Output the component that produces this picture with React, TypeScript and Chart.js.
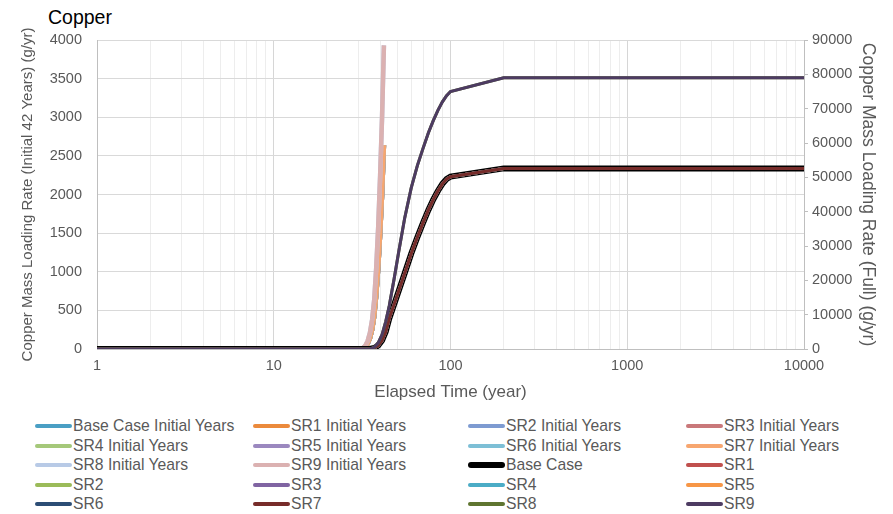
import React, { useEffect, useRef } from "react";
import { Chart, registerables } from "chart.js";

Chart.register(...registerables);

// ---- data ----
const initialYears = [1, 30, 32, 33, 34, 35, 36, 37, 38, 39, 40, 41, 42];
const initialGroupA = [0, 0, 10, 30, 70, 140, 250, 420, 700, 1050, 1500, 2000, 2640];
const initialGroupB = [0, 0, 15, 45, 105, 210, 375, 630, 1050, 1580, 2250, 3000, 3930];

const fullYears = [1, 35, 37, 39, 41, 43, 45, 48, 51, 55, 60, 65, 70, 75, 80, 85, 90, 95, 100, 200, 10000];
const fullGroupA = [0, 0, 300, 1000, 2500, 5000, 8800, 13000, 17000, 22000, 27800, 32600, 36800, 40500, 43600, 46100, 48100, 49500, 50200, 52600, 52600];
const fullGroupB = [0, 0, 500, 1800, 4200, 8000, 12500, 20500, 28500, 38000, 47000, 53500, 58500, 63000, 66600, 69600, 72000, 73800, 75000, 79000, 79000];

const xTickDecades = [1, 10, 100, 1000];
const xTickMultipliers = [1, 2, 3, 4, 5, 6, 7, 8, 9];
const xMin = 1;
const xMax = 10000;

const leftMax = 4000;
const leftStep = 500;
const rightMax = 90000;
const rightStep = 10000;

const seriesLabels = [
  "Base Case Initial Years", "SR1 Initial Years", "SR2 Initial Years", "SR3 Initial Years",
  "SR4 Initial Years", "SR5 Initial Years", "SR6 Initial Years", "SR7 Initial Years",
  "SR8 Initial Years", "SR9 Initial Years", "Base Case", "SR1",
  "SR2", "SR3", "SR4", "SR5",
  "SR6", "SR7", "SR8", "SR9",
];
const seriesColors = [
  "#4A9FC4", "#EB8A3C", "#7E9BD1", "#C9787A",
  "#A5C87A", "#9B88BF", "#7DBFD6", "#F7A66F",
  "#B8CAE6", "#DBB1B1", "#000000", "#C0504D",
  "#9BBB59", "#8064A2", "#4BACC6", "#F79646",
  "#2C4D75", "#772C2A", "#5F7530", "#4D3B62",
];
// which data each series uses
const seriesYears = [
  initialYears, initialYears, initialYears, initialYears, initialYears,
  initialYears, initialYears, initialYears, initialYears, initialYears,
  fullYears, fullYears, fullYears, fullYears, fullYears,
  fullYears, fullYears, fullYears, fullYears, fullYears,
];
const seriesValues = [
  initialGroupA, initialGroupA, initialGroupA, initialGroupA, initialGroupA,
  initialGroupA, initialGroupA, initialGroupA, initialGroupB, initialGroupB,
  fullGroupA, fullGroupA, fullGroupA, fullGroupA, fullGroupA,
  fullGroupA, fullGroupA, fullGroupA, fullGroupB, fullGroupB,
];

const FONT = '"Liberation Sans", Arial, sans-serif';
const TEXT = "#595959";

function isPow10(v: number) {
  const l = Math.log10(v);
  return Math.abs(l - Math.round(l)) < 1e-9;
}

export default function App() {
  const canvasRef = useRef<HTMLCanvasElement | null>(null);

  useEffect(() => {
    const canvas = canvasRef.current;
    if (!canvas) return;
    const n = seriesLabels.length;
    const datasets = seriesLabels.map((label, i) => {
      const isInitial = i < 10;
      const isBase = i === 10;
      return {
        label,
        data: seriesYears[i].map((x, j) => ({ x, y: seriesValues[i][j] })),
        borderColor: seriesColors[i],
        backgroundColor: seriesColors[i],
        borderWidth: isInitial ? 4.5 : isBase ? 6 : 3,
        pointRadius: 0,
        fill: false,
        tension: 0,
        order: n - i,
        yAxisID: isInitial ? "y" : "y1",
      };
    });

    const chart = new Chart(canvas, {
      type: "line",
      data: { datasets },
      options: {
        animation: false,
        responsive: false,
        devicePixelRatio: 1,
        layout: { padding: { top: 40, left: 0, right: 0, bottom: 0 } },
        plugins: {
          legend: { display: false },
          tooltip: { enabled: false },
          title: { display: false },
        },
        scales: {
          x: {
            type: "logarithmic",
            min: xMin,
            max: xMax,
            afterBuildTicks: (scale: any) => {
              const ticks: any[] = [];
              xTickDecades.forEach((d) => {
                xTickMultipliers.forEach((m) => ticks.push({ value: d * m, major: m === 1 }));
              });
              ticks.push({ value: xMax, major: true });
              scale.ticks = ticks;
            },
            afterFit: (scale: any) => {
              scale.height = 61;
            },
            ticks: {
              autoSkip: false,
              maxRotation: 0,
              minRotation: 0,
              color: TEXT,
              font: { family: FONT, size: 14.5 },
              padding: 8,
              callback: (value: any) => (isPow10(Number(value)) ? String(value) : ""),
            },
            grid: {
              color: (ctx: any) => (ctx.tick && isPow10(ctx.tick.value) ? "#D6D6D6" : "#EDEDED"),
              lineWidth: 1,
              drawTicks: false,
            },
            border: { color: "#BFBFBF" },
            title: {
              display: true,
              text: "Elapsed Time (year)",
              color: TEXT,
              font: { family: FONT, size: 17 },
              padding: { top: 0, bottom: 7 },
            },
          },
          y: {
            type: "linear",
            position: "left",
            min: 0,
            max: leftMax,
            afterFit: (scale: any) => {
              scale.width = 97;
            },
            ticks: {
              stepSize: leftStep,
              color: TEXT,
              font: { family: FONT, size: 14.5 },
              padding: 15,
              callback: (value: any) => String(value),
            },
            grid: { color: "#D9D9D9", drawTicks: false },
            border: { color: "#BFBFBF" },
            title: {
              display: true,
              text: "Copper Mass Loading Rate (Initial 42 Years) (g/yr)",
              color: TEXT,
              font: { family: FONT, size: 15 },
              padding: { top: 19, bottom: 0 },
            },
          },
          y1: {
            type: "linear",
            position: "right",
            min: 0,
            max: rightMax,
            afterFit: (scale: any) => {
              scale.width = 89;
            },
            ticks: {
              stepSize: rightStep,
              color: TEXT,
              font: { family: FONT, size: 14.5 },
              padding: 4,
              callback: (value: any) => String(value),
            },
            grid: { drawOnChartArea: false, color: "#BFBFBF", tickLength: 4 },
            border: { color: "#BFBFBF" },
            title: {
              display: true,
              text: "Copper Mass Loading Rate (Full) (g/yr)",
              color: TEXT,
              font: { family: FONT, size: 17.5 },
              padding: { top: 15, bottom: 0 },
            },
          },
        },
      } as any,
    });
    return () => chart.destroy();
  }, []);

  const colX = [35, 253, 468, 686];
  const rowY = [426, 445.5, 465, 484.5, 504];

  return (
    <div
      style={{
        position: "fixed",
        left: 0,
        top: 0,
        width: 893,
        height: 514,
        background: "#ffffff",
        fontFamily: FONT,
        overflow: "hidden",
      }}
    >
      <div
        style={{
          position: "absolute",
          left: 48,
          top: 6,
          fontSize: 19.5,
          lineHeight: "22px",
          color: "#000000",
        }}
      >
        Copper
      </div>
      <canvas
        ref={canvasRef}
        width={893}
        height={410}
        style={{ position: "absolute", left: 0, top: 0, width: 893, height: 410 }}
      />
      {seriesLabels.map((label, i) => {
        const col = i % 4;
        const row = Math.floor(i / 4);
        const isBase = i === 10;
        return (
          <div
            key={label}
            style={{
              position: "absolute",
              left: colX[col],
              top: rowY[row] - 10,
              height: 20,
              display: "flex",
              alignItems: "center",
              whiteSpace: "nowrap",
            }}
          >
            <div
              style={{
                width: 37,
                height: isBase ? 6 : 4,
                borderRadius: 3,
                background: seriesColors[i],
              }}
            />
            <span style={{ fontSize: 15.7, color: TEXT, marginLeft: 1 }}>{label}</span>
          </div>
        );
      })}
    </div>
  );
}
